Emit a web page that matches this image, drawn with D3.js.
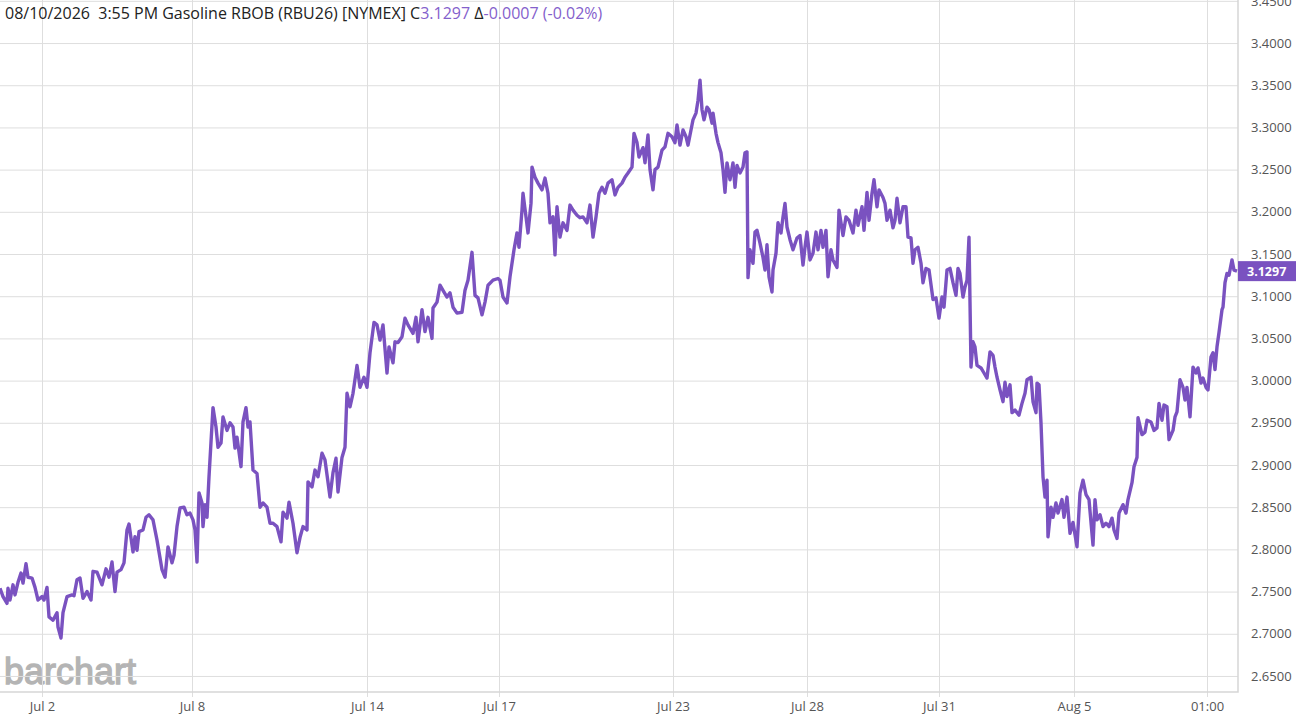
<!DOCTYPE html>
<html>
<head>
<meta charset="utf-8">
<script src="https://cdn.jsdelivr.net/npm/d3@7/dist/d3.min.js"></script>
<style>
	body { margin: 0; background: #fff; }
	svg { display: block; font-family: "Open Sans", "Noto Sans", sans-serif; }
</style>
</head>
<body>
<div id="chart"></div>
<script>
var bars = [
	0, 3, 7, 8, 10, 13, 15, 18, 21, 23, 26, 28, 32, 35, 38, 42, 44, 47, 49, 53, 57, 58, 61, 63, 67,
	72, 74, 77, 80, 83, 87, 91, 93, 97, 102, 106, 109, 112, 115, 117, 121, 124, 127, 129, 133, 135, 137, 139, 143, 146,
	149, 153, 157, 162, 165, 168, 172, 174, 177, 180, 184, 187, 190, 193, 195, 197, 199, 202, 203, 205, 207, 209, 211, 213, 216,
	218, 221, 223, 227, 230, 233, 235, 237, 241, 243, 246, 248, 250,
	253, 257, 260, 263, 267, 270, 273, 277, 281, 283, 287, 289, 293, 297, 300, 303, 307, 308, 312, 315, 318, 322, 325, 330, 333,
	336, 338, 342, 345, 347, 350, 353, 357, 360, 364, 367, 370, 374, 377, 380, 383, 387, 389, 393, 395, 398, 402, 405, 408, 413,
	416, 418, 422, 425, 428, 432, 433, 437, 440, 443, 447, 450, 453, 457, 462, 465, 468, 472, 475, 478, 482, 485, 488, 493, 498,
	500, 503, 507, 510, 514, 517, 519, 522, 523, 526, 528, 531, 532, 535, 538, 542, 545, 548, 550, 553, 555, 557, 560, 563, 567,
	570, 573, 577, 580, 583, 587, 590, 593, 596, 599, 602, 605, 608, 612, 615, 618, 622, 625, 628, 632, 634, 637, 639, 643, 645,
	648, 650, 653, 655, 658, 662, 665, 668, 672, 675, 677, 680, 683, 686, 688, 691, 693, 696, 698, 700, 702, 704, 707, 709, 712,
	713, 716, 718, 721, 723, 725, 727, 730, 733, 735, 737, 740, 743, 745, 747,
	748, 750, 753, 755, 757, 760, 763, 765, 767, 769, 772, 773, 776, 778, 781, 783, 785, 787, 790, 793, 797, 800, 803, 805, 807,
	810, 813, 816, 818, 821, 823, 826, 828, 831, 833, 837, 839, 843, 846, 849, 853, 856, 858, 862, 864, 867, 869, 872, 874, 877,
	879, 883, 885, 887, 890, 893, 895, 897, 900, 903, 906, 908, 911, 913, 915, 918, 921, 923, 926, 929, 933, 936, 939, 942, 944,
	947, 950, 953, 956, 958,
	960, 963, 965, 967, 969, 971, 973, 975, 977, 981, 984, 987, 990, 993, 995, 997, 1000, 1003, 1005, 1007, 1010, 1012, 1015, 1019, 1022,
	1025, 1027, 1031, 1033, 1036, 1037, 1039, 1041, 1043, 1045, 1047, 1048, 1051, 1053, 1056, 1058, 1062, 1064, 1067, 1070, 1073, 1077, 1080, 1083, 1086,
	1089, 1093, 1095, 1097, 1100, 1103, 1106, 1109, 1112, 1114, 1117, 1119, 1123, 1126, 1128, 1132, 1134, 1137, 1138, 1142, 1145, 1147, 1151, 1154, 1157,
	1159, 1162, 1164, 1167, 1169, 1173, 1175, 1177, 1180, 1183, 1185, 1187, 1190, 1193, 1196, 1198, 1201, 1203, 1206, 1208, 1211, 1213, 1215, 1217, 1219,
	1222, 1223, 1225, 1227, 1229, 1232, 1234, 1237
];

// Close prices matching bars[].
var closes = [
	2.754, 2.744, 2.736, 2.754, 2.740, 2.758, 2.746, 2.761, 2.772, 2.760, 2.783, 2.767, 2.766, 2.755, 2.740, 2.744, 2.740, 2.755, 2.720, 2.716, 2.725, 2.708, 2.695, 2.725, 2.744,
	2.746, 2.745, 2.764, 2.766, 2.742, 2.750, 2.740, 2.774, 2.773, 2.758, 2.777, 2.767, 2.785, 2.750, 2.773, 2.776, 2.784, 2.823, 2.830, 2.797, 2.815, 2.799, 2.821, 2.823, 2.838,
	2.841, 2.835, 2.811, 2.776, 2.767, 2.803, 2.784, 2.793, 2.827, 2.849, 2.850, 2.841, 2.843, 2.835, 2.823, 2.785, 2.867, 2.855, 2.827, 2.853, 2.838, 2.886, 2.927, 2.968, 2.945,
	2.921, 2.926, 2.957, 2.941, 2.950, 2.945, 2.920, 2.933, 2.898, 2.951, 2.968, 2.945, 2.951,
	2.894, 2.890, 2.850, 2.855, 2.850, 2.831, 2.831, 2.827, 2.809, 2.844, 2.837, 2.856, 2.831, 2.796, 2.814, 2.827, 2.823, 2.880, 2.874, 2.894, 2.886, 2.914, 2.906, 2.862, 2.891,
	2.908, 2.868, 2.909, 2.921, 2.985, 2.969, 2.985, 3.018, 2.992, 3.004, 2.992, 3.033, 3.069, 3.066, 3.048, 3.066, 3.009, 3.040, 3.021, 3.046, 3.045, 3.052, 3.074, 3.066, 3.056,
	3.075, 3.046, 3.084, 3.058, 3.075, 3.050, 3.086, 3.093, 3.113, 3.107, 3.099, 3.104, 3.087, 3.080, 3.081, 3.107, 3.119, 3.152, 3.101, 3.098, 3.078, 3.093, 3.113, 3.119, 3.121,
	3.119, 3.099, 3.092, 3.123, 3.155, 3.175, 3.158, 3.202, 3.222, 3.194, 3.175, 3.210, 3.253, 3.241, 3.234, 3.226, 3.240, 3.222, 3.187, 3.194, 3.149, 3.206, 3.170, 3.187, 3.178,
	3.208, 3.202, 3.196, 3.193, 3.194, 3.187, 3.208, 3.170, 3.194, 3.222, 3.229, 3.222, 3.234, 3.238, 3.220, 3.229, 3.234, 3.241, 3.246, 3.253, 3.293, 3.282, 3.265, 3.276, 3.258,
	3.291, 3.250, 3.226, 3.250, 3.253, 3.273, 3.277, 3.293, 3.289, 3.282, 3.303, 3.279, 3.297, 3.289, 3.279, 3.297, 3.309, 3.317, 3.332, 3.356, 3.321, 3.309, 3.324, 3.321, 3.305,
	3.317, 3.293, 3.282, 3.270, 3.250, 3.223, 3.258, 3.238, 3.258, 3.229, 3.255, 3.246, 3.253, 3.270, 3.271,
	3.122, 3.155, 3.139, 3.176, 3.178, 3.163, 3.146, 3.131, 3.161, 3.123, 3.105, 3.131, 3.151, 3.187, 3.175, 3.194, 3.210, 3.182, 3.167, 3.155, 3.169, 3.172, 3.137, 3.158, 3.176,
	3.143, 3.151, 3.176, 3.155, 3.178, 3.158, 3.178, 3.123, 3.155, 3.143, 3.134, 3.202, 3.172, 3.194, 3.190, 3.175, 3.202, 3.184, 3.206, 3.178, 3.223, 3.190, 3.222, 3.238, 3.206,
	3.226, 3.217, 3.210, 3.190, 3.202, 3.181, 3.190, 3.216, 3.187, 3.206, 3.206, 3.170, 3.169, 3.139, 3.155, 3.158, 3.139, 3.116, 3.133, 3.131, 3.096, 3.098, 3.074, 3.099, 3.087,
	3.131, 3.133, 3.116, 3.101, 3.133,
	3.127, 3.099, 3.111, 3.119, 3.170, 3.016, 3.046, 3.040, 3.018, 3.015, 3.009, 3.003, 3.034, 3.030, 3.016, 3.004, 2.989, 2.975, 2.998, 2.981, 2.995, 2.962, 2.965, 2.959, 2.973,
	2.985, 3.001, 3.004, 2.975, 2.962, 2.997, 2.995, 2.950, 2.886, 2.862, 2.882, 2.815, 2.850, 2.838, 2.855, 2.843, 2.859, 2.838, 2.862, 2.819, 2.832, 2.803, 2.867, 2.882, 2.865,
	2.859, 2.805, 2.859, 2.835, 2.841, 2.827, 2.831, 2.827, 2.837, 2.823, 2.813, 2.843, 2.853, 2.843, 2.859, 2.879, 2.898, 2.909, 2.956, 2.936, 2.939, 2.953, 2.951, 2.941, 2.944,
	2.973, 2.953, 2.971, 2.969, 2.930, 2.941, 2.957, 2.963, 3.001, 2.992, 2.977, 2.992, 2.957, 3.016, 3.009, 3.015, 2.997, 3.003, 2.992, 2.989, 3.028, 3.033, 3.013, 3.040, 3.057,
	3.084, 3.087, 3.116, 3.127, 3.125, 3.143, 3.131, 3.1297
];

// Time axis labels and the bar they sit on.
var xTickBars = [42, 192, 367, 499, 673, 807, 939, 1074, 1207];
var xTickLabels = ["Jul 2", "Jul 8", "Jul 14", "Jul 17", "Jul 23", "Jul 28", "Jul 31", "Aug 5", "01:00"];

// Price axis ticks.
var yTicks = [2.65, 2.70, 2.75, 2.80, 2.85, 2.90, 2.95, 3.00, 3.05, 3.10, 3.15, 3.20, 3.25, 3.30, 3.35, 3.40, 3.45];

var lastPrice = 3.1297;
var header = {
	date: "08/10/2026\u00a0\u00a03:55 PM",
	name: "Gasoline RBOB (RBU26) [NYMEX]",
	close: "3.1297",
	change: "-0.0007 (-0.02%)"
};

{
	var width = 1296,
		height = 721,
		plotW = 1238,
		plotH = 692,
		barSpan = 1238;

	var purple = "#7a52c0",
		gridColor = "#dedede";

	var x = d3.scaleLinear()
		.domain([0, barSpan])
		.range([0, plotW]);

	var y = d3.scaleLinear()
		.domain([2.631, 3.451])
		.range([plotH, 0]);

	var svg = d3.select("#chart")
		.append("svg")
		.attr("width", width)
		.attr("height", height);

	// Watermark sits under the grid.
	svg.append("text")
		.attr("x", 4)
		.attr("y", 684)
		.style("font-family", "'Liberation Sans', Arial, sans-serif")
		.style("font-size", "36px")
		.style("fill", "#b4b4b4")
		.style("stroke", "#b4b4b4")
		.style("stroke-width", 1.3)
		.style("letter-spacing", "0px")
		.text("barchart");

	// Horizontal grid + price labels.
	var yAxis = d3.axisRight(y)
		.tickValues(yTicks)
		.tickSize(-plotW)
		.tickPadding(13)
		.tickFormat(d3.format(".4f"));

	var gy = svg.append("g")
		.attr("transform", "translate(" + plotW + ",0)")
		.call(yAxis);
	gy.select(".domain").remove();
	gy.selectAll(".tick line").attr("stroke", gridColor);
	gy.selectAll(".tick text")
		.style("font-size", "13px")
		.style("font-family", "'Open Sans', sans-serif")
		.attr("fill", "#555");

	// Vertical grid + time labels.
	var xAxis = d3.axisBottom(x)
		.tickValues(xTickBars)
		.tickSize(plotH + 5)
		.tickPadding(5)
		.tickFormat(function (d, i) {
			return xTickLabels[i];
		});

	var gx = svg.append("g")
		.call(xAxis);
	gx.select(".domain").remove();
	gx.selectAll(".tick line").attr("stroke", gridColor);
	gx.selectAll(".tick text")
		.style("font-size", "13px")
		.style("font-family", "'Open Sans', sans-serif")
		.attr("fill", "#555");

	// Plot frame (right + bottom).
	svg.append("path")
		.attr("d", "M" + x(barSpan) + ",0V" + y(y.domain()[0]) + "H0")
		.attr("fill", "none")
		.attr("stroke", "#d6d6d6")
		.attr("stroke-width", 1.5);

	var line = d3.line()
		.x(function (d) { return x(d[0]); })
		.y(function (d) { return y(d[1]); });

	svg.append("path")
		.datum(d3.zip(bars, closes))
		.attr("d", line)
		.attr("fill", "none")
		.attr("stroke", purple)
		.attr("stroke-width", 3.4)
		.attr("stroke-linejoin", "round");

	// Last price tag.
	var tag = svg.append("g")
		.attr("transform", "translate(" + x(barSpan) + "," + y(lastPrice) + ")");
	tag.append("rect")
		.attr("x", 0)
		.attr("y", -10)
		.attr("width", width - plotW)
		.attr("height", 20)
		.attr("fill", purple);
	tag.append("text")
		.attr("x", 9)
		.attr("dy", "0.36em")
		.style("font-size", "12.5px")
		.style("font-weight", "bold")
		.attr("fill", "#fff")
		.text(d3.format(".4f")(lastPrice));

	// Header line.
	var title = svg.append("text")
		.attr("x", 5)
		.attr("y", 19)
		.style("font-size", "16px")
		.attr("fill", "#222");
	title.append("tspan").text(header.date + " " + header.name + " C");
	title.append("tspan").attr("fill", "#8460cc").text(header.close);
	title.append("tspan").text(" \u0394");
	title.append("tspan").attr("fill", "#8460cc").text(header.change);
}
</script>
</body>
</html>
